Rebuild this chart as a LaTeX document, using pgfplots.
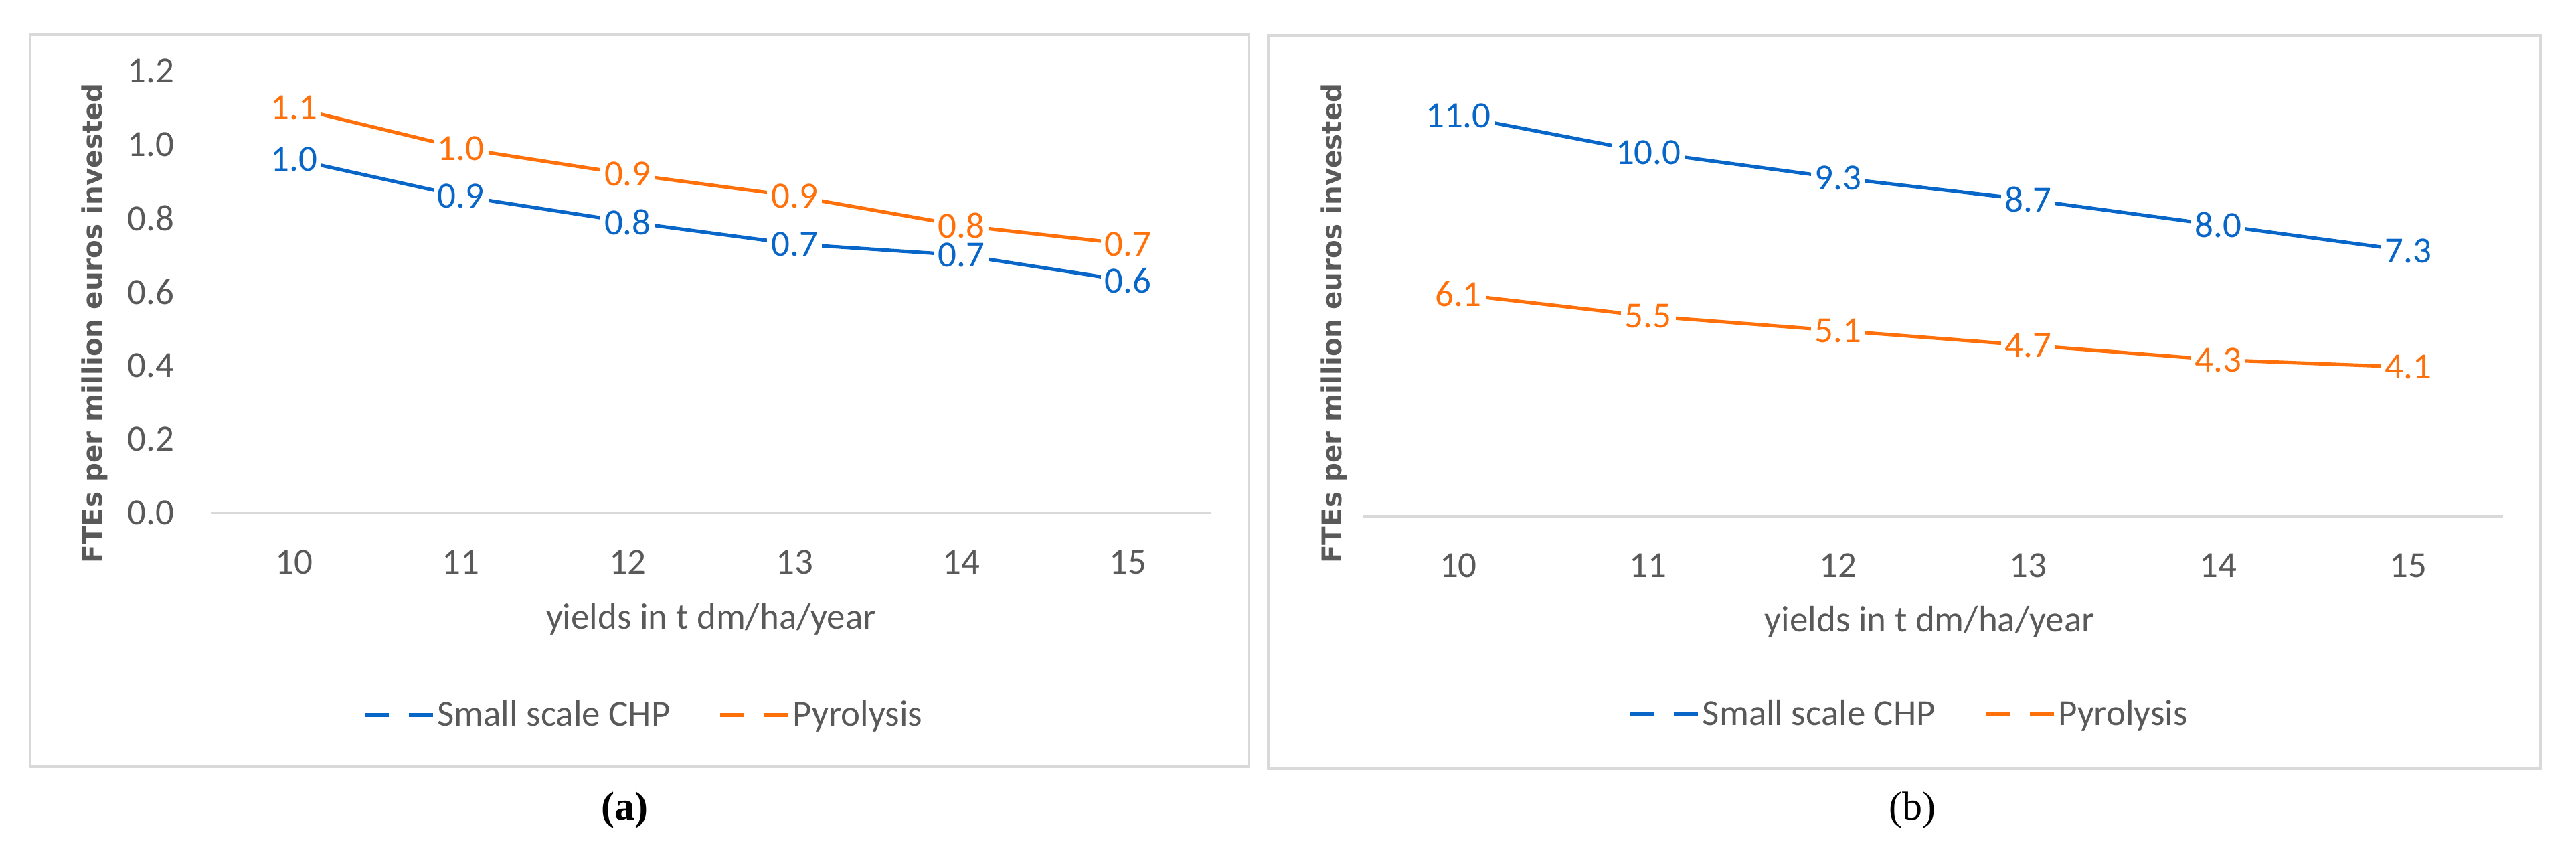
\documentclass[border=0pt]{standalone}
\usepackage{fontspec}
\setmainfont{Carlito}
\newfontfamily\ylabfont{DejaVu Sans}
\newfontfamily\capfont{Liberation Serif}
\usepackage{pgfplots}
\pgfplotsset{compat=1.18}

\definecolor{cblue}{RGB}{8,102,200}
\definecolor{corange}{RGB}{255,112,10}
\definecolor{txtgray}{RGB}{89,89,89}
\definecolor{grid217}{RGB}{217,217,217}

\pgfplotsset{
  /pgf/number format/assume math mode=true,
  fte/.style={
    scale only axis,
    no markers,
    clip=false,
    separate axis lines,
    axis x line*=bottom,
    axis y line*=left,
    y axis line style={draw=none},
    x axis line style={draw=grid217, line width=0.9pt, -},
    major tick length=0pt,
    xmin=9.5, xmax=15.5,
    xtick={10,11,12,13,14,15},
    ymin=0,
    tick label style={font=\fontsize{13.75}{16}\selectfont, text=txtgray},
    xticklabel style={anchor=center, yshift=-18.5pt},
    label style={font=\fontsize{13.75}{16}\selectfont, text=txtgray},
    xlabel={yields in t dm/ha/year},
    ylabel={FTEs per million euros invested},
    ylabel style={font=\ylabfont\bfseries\fontsize{10.1}{12}\selectfont, text=txtgray, anchor=center},
    legend columns=2,
    legend style={draw=none, fill=none, anchor=center,
      font=\fontsize{13.75}{16}\selectfont, text=txtgray,
      nodes={inner xsep=1pt},
      /tikz/every even column/.append style={column sep=17pt}},
    legend image code/.code={\draw[#1, dash pattern=on 9pt off 7.5pt, line cap=butt] (0pt,0pt) -- (25.5pt,0pt);},
    nodes near coords={\pgfmathprintnumber[fixed,fixed zerofill,precision=1]{\pgfplotspointmeta}},
    every node near coord/.append style={anchor=center, fill=white, inner sep=1.5pt,
      font=\fontsize{13.75}{16}\selectfont},
  },
  chp/.style={cblue, line width=1.3pt, line cap=round, every node near coord/.append style={text=cblue}},
  pyro/.style={corange, line width=1.3pt, line cap=round, every node near coord/.append style={text=corange}},
}

\begin{document}
\begin{tikzpicture}
\path[use as bounding box] (0,0) rectangle (962.25pt,319.75pt);

% frames of the two chart areas
\draw[grid217, line width=0.8pt] (11.25pt,33.5pt) rectangle (466.5pt,306.75pt);
\draw[grid217, line width=0.8pt] (473.75pt,32.75pt) rectangle (949pt,306.5pt);

% (a)
\begin{axis}[fte,
  at={(78.75pt,128.25pt)}, anchor=south west,
  width=373.75pt, height=165pt,
  ymax=1.2, ytick={0,0.2,...,1.2},
  yticklabel style={anchor=east, inner sep=0pt, xshift=-13.5pt,
    /pgf/number format/.cd, fixed, fixed zerofill, precision=1},
  xlabel style={at={(rel axis cs:0.5,-0.241)}, anchor=center},
  ylabel style={at={(rel axis cs:-0.1164,0.429)}},
  legend style={at={(rel axis cs:0.433,-0.4576)}},
]
\addplot[chp] table {
10 0.96
11 0.86
12 0.79
13 0.73
14 0.70
15 0.63
};
\addlegendentry{Small scale CHP}
\addplot[pyro] table {
10 1.10
11 0.99
12 0.92
13 0.86
14 0.78
15 0.73
};
\addlegendentry{Pyrolysis}
\end{axis}

% (b)
\begin{axis}[fte,
  at={(509.25pt,127pt)}, anchor=south west,
  width=425.75pt, height=163pt,
  ymax=12, ytick=\empty,
  xlabel style={at={(rel axis cs:0.497,-0.242)}, anchor=center},
  ylabel style={at={(rel axis cs:-0.0258,0.4417)}},
  legend style={at={(rel axis cs:0.479,-0.454)}},
]
\addplot[chp] table {
10 11.0
11 10.0
12 9.3
13 8.7
14 8.0
15 7.3
};
\addlegendentry{Small scale CHP}
\addplot[pyro] table {
10 6.1
11 5.5
12 5.1
13 4.7
14 4.3
15 4.1
};
\addlegendentry{Pyrolysis}
\end{axis}

\node[font=\capfont\bfseries\fontsize{15}{18}\selectfont] at (233.25pt,17.25pt) {(a)};
\node[font=\capfont\fontsize{15}{18}\selectfont] at (714.25pt,17.25pt) {(b)};
\end{tikzpicture}
\end{document}
